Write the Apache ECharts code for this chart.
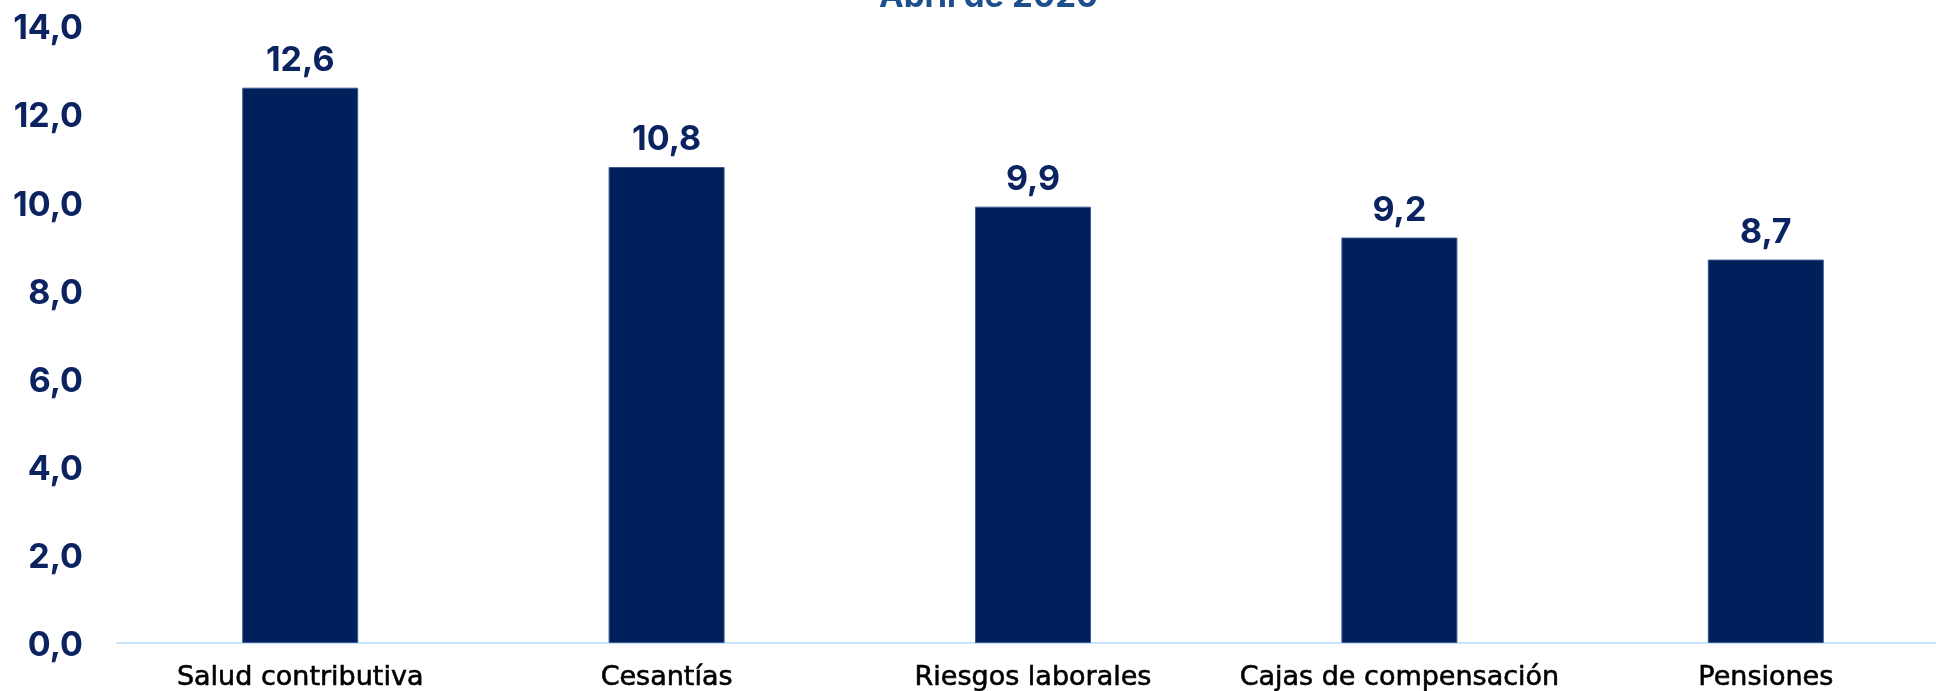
<!DOCTYPE html>
<html>
<head>
<meta charset="utf-8">
<script src="https://cdn.jsdelivr.net/npm/echarts@6/dist/echarts.min.js"></script>
<style>
html,body{margin:0;padding:0;background:#fff;}
#chart{width:1936px;height:691px;}
</style>
</head>
<body>
<div id="chart"></div>
<script>
var categories=['Salud contributiva','Cesantías','Riesgos laborales','Cajas de compensación','Pensiones'];
var values=[12.6,10.8,9.9,9.2,8.7];
var yTicks=[0,2,4,6,8,10,12,14];

function coma(v){
	return v.toFixed(1).replace('.',',');
}

var myChart=echarts.init(document.getElementById('chart'));
var option={
	title:{
		text:'Abril de 2020',
		left:874,
		top:-24,
		textStyle:{
			color:'#1d4f8c',
			fontFamily:'Inter',
			fontWeight:'bold',
			fontSize:33
		}
	},
	grid:{
		left:117,
		right:-13,
		top:26,
		bottom:48,
		outerBoundsMode:'none'
	},
	xAxis:{
		type:'category',
		data:categories,
		axisLine:{lineStyle:{color:'#cae4fb',width:2}},
		axisTick:{show:false},
		axisLabel:{
			interval:0,
			color:'#000',
			fontFamily:'DejaVu Sans',
			fontSize:27,
			margin:21,
			textBorderColor:'#000',
			textBorderWidth:0.6
		}
	},
	yAxis:{
		type:'value',
		min:yTicks[0],
		max:yTicks[yTicks.length-1],
		interval:2,
		splitLine:{show:false},
		axisLine:{show:false},
		axisTick:{show:false},
		axisLabel:{
			color:'#0b2461',
			fontFamily:'Inter',
			fontWeight:'bold',
			fontSize:34,
			margin:34,
			verticalAlign:'top',
			lineHeight:34,
			padding:[-14,0,0,0],
			formatter:function(v){return coma(v);}
		}
	},
	series:[{
		type:'bar',
		data:values,
		barWidth:116,
		itemStyle:{
			color:'#00205c',
			borderColor:'#3d5a8f',
			borderWidth:1
		},
		label:{
			show:true,
			position:'top',
			distance:10,
			color:'#0b2461',
			fontFamily:'Inter',
			fontWeight:'bold',
			fontSize:34,
			formatter:function(p){return coma(p.value);}
		}
	}]
};
myChart.setOption(option);
</script>
</body>
</html>
